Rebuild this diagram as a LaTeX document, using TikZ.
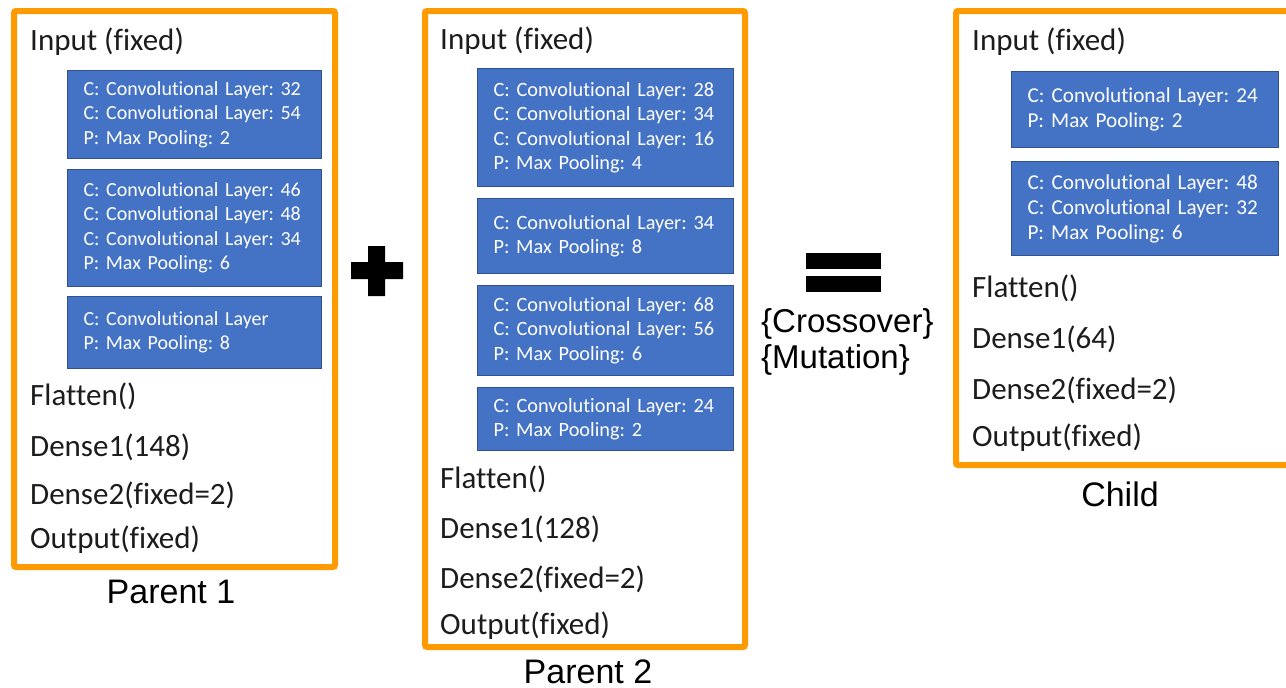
\documentclass[tikz,border=0pt]{standalone}
\usepackage{fontspec}
\setmainfont{Carlito}[Ligatures=NoCommon]
\newfontfamily\labelfont{Liberation Sans}
\definecolor{frameorange}{HTML}{FF9A00}
\definecolor{convfill}{HTML}{4472C4}
\definecolor{convedge}{HTML}{2F528F}
\definecolor{ink}{HTML}{1C1C1C}
\frenchspacing

\begin{document}
\begin{tikzpicture}[x=1pt,y=-1pt,
  frame/.style={draw=frameorange, line width=6pt, rounded corners=2pt},
  layer/.style={anchor=base west, inner sep=0pt, text=ink,
    font=\fontsize{31}{31}\selectfont},
  conv/.style={anchor=north west, draw=convedge, line width=1pt,
    fill=convfill, text=white, align=left, inner xsep=16pt, inner ysep=0pt},
  p1conv/.style={conv, text width=222pt, minimum width=254pt,
    font=\fontsize{20}{24.5}\selectfont},
  p2conv/.style={conv, text width=224pt, minimum width=256pt,
    font=\fontsize{20.3}{24.5}\selectfont},
  chconv/.style={conv, text width=235pt, minimum width=267pt,
    font=\fontsize{21.2}{25}\selectfont},
  caption/.style={anchor=base, inner sep=0pt, text=black,
    font=\labelfont\fontsize{34}{34}\selectfont},
  optext/.style={anchor=base west, inner sep=0pt, text=black,
    font=\labelfont\fontsize{33}{33}\selectfont}]

\useasboundingbox (0,0) rectangle (1286,688);
\clip (0,0) rectangle (1286,688);
\fill[white] (0,0) rectangle (1286,688);

% ---------- Parent 1 ----------
\draw[frame] (14,11) rectangle (335,567);
\node[layer] (p1in) at (30,50) {Input (fixed)};
\node[p1conv, minimum height=88pt] (p1b1) at (67,70)
  {C: Convolutional Layer: 32\\C: Convolutional Layer: 54\\P: Max Pooling: 2};
\node[p1conv, minimum height=117pt] (p1b2) at (67,169)
  {C: Convolutional Layer: 46\\C: Convolutional Layer: 48\\C: Convolutional Layer: 34\\P: Max Pooling: 6};
\node[p1conv, minimum height=72pt] (p1b3) at (67,296)
  {C: Convolutional Layer\\P: Max Pooling: 8};
\node[layer] (p1fl) at (30,405) {Flatten()};
\node[layer] (p1d1) at (30,456) {Dense1(148)};
\node[layer] (p1d2) at (30,504) {Dense2(fixed=2)};
\node[layer] (p1out) at (30,548) {Output(fixed)};
\node[caption] (p1cap) at (171,603) {Parent 1};

% ---------- operator: plus ----------
\fill[black] (351,262) -- (368,262) -- (368,246) -- (385,246) -- (385,262)
  -- (403,262) -- (403,279) -- (385,279) -- (385,296) -- (368,296)
  -- (368,279) -- (351,279) -- cycle;

% ---------- Parent 2 ----------
\draw[frame] (425,11) rectangle (745,647);
\node[layer] (p2in) at (440,49) {Input (fixed)};
\node[p2conv, minimum height=118pt] (p2b1) at (477,68)
  {C: Convolutional Layer: 28\\C: Convolutional Layer: 34\\C: Convolutional Layer: 16\\P: Max Pooling: 4};
\node[p2conv, minimum height=75pt] (p2b2) at (477,198)
  {C: Convolutional Layer: 34\\P: Max Pooling: 8};
\node[p2conv, minimum height=90pt] (p2b3) at (477,285)
  {C: Convolutional Layer: 68\\C: Convolutional Layer: 56\\P: Max Pooling: 6};
\node[p2conv, minimum height=63pt] (p2b4) at (477,387)
  {C: Convolutional Layer: 24\\P: Max Pooling: 2};
\node[layer] (p2fl) at (440,488) {Flatten()};
\node[layer] (p2d1) at (440,538) {Dense1(128)};
\node[layer] (p2d2) at (440,588) {Dense2(fixed=2)};
\node[layer] (p2out) at (440,634) {Output(fixed)};
\node[caption] (p2cap) at (588,683) {Parent 2};

% ---------- operator: equals ----------
\fill[black] (806,253) rectangle (881,269);
\fill[black] (806,276) rectangle (881,292);
\node[optext] (xover) at (761,332) {\{Crossover\}};
\node[optext] (mutate) at (761,368) {\{Mutation\}};

% ---------- Child ----------
\draw[frame] (956,11) rectangle (1296,465);
\node[layer] (chin) at (972,50) {Input (fixed)};
\node[chconv, minimum height=76pt] (chb1) at (1011,71)
  {C: Convolutional Layer: 24\\P: Max Pooling: 2};
\node[chconv, minimum height=94pt] (chb2) at (1011,161)
  {C: Convolutional Layer: 48\\C: Convolutional Layer: 32\\P: Max Pooling: 6};
\node[layer] (chfl) at (972,297) {Flatten()};
\node[layer] (chd1) at (972,348) {Dense1(64)};
\node[layer] (chd2) at (972,399) {Dense2(fixed=2)};
\node[layer] (chout) at (972,446) {Output(fixed)};
\node[caption] (chcap) at (1120,506) {Child};

\end{tikzpicture}
\end{document}
